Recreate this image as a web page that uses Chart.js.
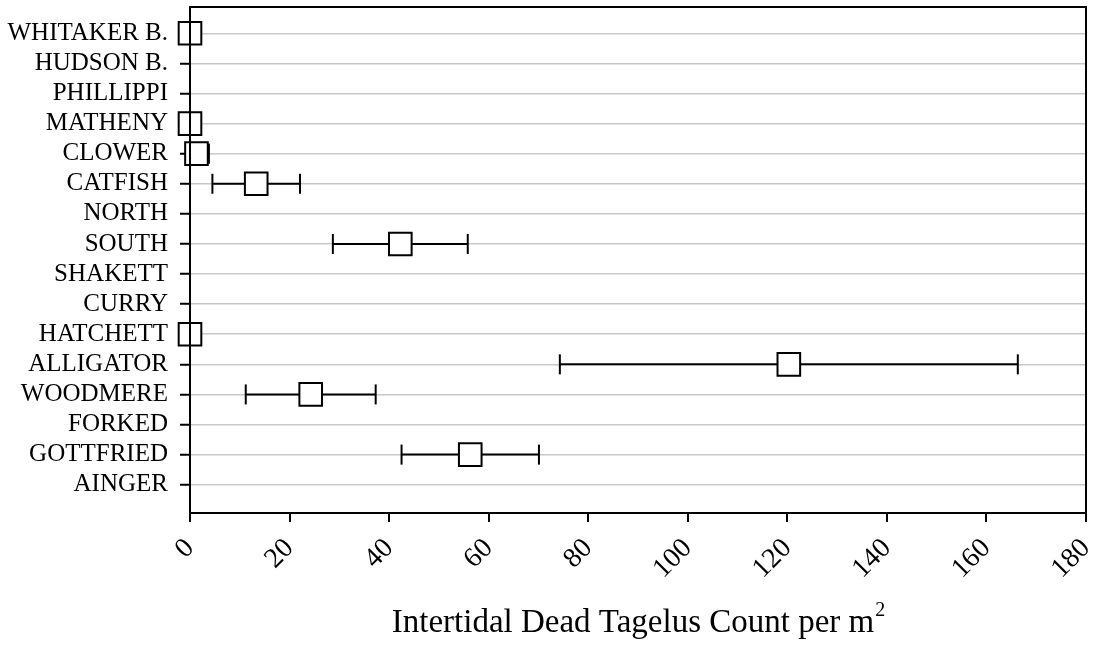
<!DOCTYPE html>
<html>
<head>
<meta charset="utf-8">
<script src="https://cdn.jsdelivr.net/npm/chart.js@4/dist/chart.umd.min.js"></script>
<style>
  html,body{margin:0;padding:0;background:#fff;}
  #wrap{position:relative;width:1099px;height:645px;}
</style>
</head>
<body>
<div id="wrap"><canvas id="c"></canvas></div>
<script>
// sitios, de arriba hacia abajo
const sites = ["WHITAKER B.","HUDSON B.","PHILLIPPI","MATHENY","CLOWER","CATFISH","NORTH","SOUTH",
  "SHAKETT","CURRY","HATCHETT","ALLIGATOR","WOODMERE","FORKED","GOTTFRIED","AINGER"];
// media y error (null = sin dato)
const means = [0, null, null, 0, 1.3, 13.3, null, 42.25, null, null, 0, 120.3, 24.25, null, 56.3, null];
const errs  = [null, null, null, null, 2.5, 8.8, null, 13.55, null, null, null, 46.0, 13.05, null, 13.8, null];
const xTicks = [0,20,40,60,80,100,120,140,160,180];
const xTitle = "Intertidal Dead Tagelus Count per m";
const xTitleSup = "2";

const FONT = "'Liberation Serif','Times New Roman',serif";
Chart.defaults.color = "#000";
Chart.defaults.font.family = FONT;

const meanPts = means.map((m,i)=>m===null?null:{x:m,y:i}).filter(p=>p);
const capPts = [];
errs.forEach((e,i)=>{ if(e!==null){ capPts.push({x:means[i]-e,y:i}); capPts.push({x:means[i]+e,y:i}); } });
const whiskers = errs.map((e,i)=>e===null?null:{
  data:[{x:means[i]-e,y:i},{x:means[i]+e,y:i}],
  showLine:true, borderColor:"#000", borderWidth:2, pointRadius:0
}).filter(d=>d);

const frameAndTitle = {
  id:"frameAndTitle",
  afterDraw(chart){
    const {ctx, chartArea:a} = chart;
    ctx.save();
    ctx.strokeStyle = "#000"; ctx.lineWidth = 2;
    ctx.strokeRect(a.left, a.top, a.right-a.left, a.bottom-a.top);
    // titulo eje x con superindice
    ctx.fillStyle = "#000";
    ctx.textBaseline = "alphabetic";
    ctx.font = "33px " + FONT;
    const w1 = ctx.measureText(xTitle).width;
    ctx.font = "20px " + FONT;
    const w2 = ctx.measureText(xTitleSup).width;
    const x0 = (a.left + a.right)/2 - (w1+w2)/2;
    ctx.font = "33px " + FONT;
    ctx.fillText(xTitle, x0, 632);
    ctx.font = "20px " + FONT;
    ctx.fillText(xTitleSup, x0 + w1 + 1, 616);
    ctx.restore();
  }
};

new Chart(document.getElementById("c"), {
  type:"scatter",
  data:{
    datasets:[
      { data:meanPts, pointStyle:"rect", pointRadius:16, pointHoverRadius:16,
        backgroundColor:"#fff", borderColor:"#000", borderWidth:2, clip:false },
      { data:capPts, pointStyle:"line", rotation:90, pointRadius:10, pointHoverRadius:10,
        borderColor:"#000", borderWidth:2, clip:{left:0,right:0,top:20,bottom:20} },
      ...whiskers
    ]
  },
  options:{
    responsive:true, maintainAspectRatio:false, animation:false,
    layout:{ autoPadding:false, padding:{ top:7, right:13, left:0, bottom:0 } },
    plugins:{ legend:{display:false}, tooltip:{enabled:false} },
    scales:{
      x:{
        type:"linear", min:0, max:180,
        afterBuildTicks: ax => { ax.ticks = xTicks.map(v=>({value:v})); },
        afterFit: ax => { ax.height = 132; ax.paddingLeft = 0; ax.paddingRight = 0; },
        ticks:{ font:{size:28}, maxRotation:45, minRotation:45, autoSkip:false, padding:10 },
        grid:{ drawOnChartArea:false, color:"#000", lineWidth:2, tickLength:9 },
        border:{ color:"#000", width:2 }
      },
      y:{
        type:"linear", reverse:true, min:-0.874, max:15.94,
        afterBuildTicks: ax => { ax.ticks = sites.map((s,i)=>({value:i})); },
        afterFit: ax => { ax.width = 190; ax.paddingTop = 0; ax.paddingBottom = 0; },
        ticks:{ font:{size:25}, padding:12, callback: v => sites[v] },
        grid:{ color:"#c8c8c8", lineWidth:1.5, tickLength:10, tickColor:"#000", tickWidth:2 },
        border:{ color:"#000", width:2 }
      }
    }
  },
  plugins:[frameAndTitle]
});
</script>
</body>
</html>
